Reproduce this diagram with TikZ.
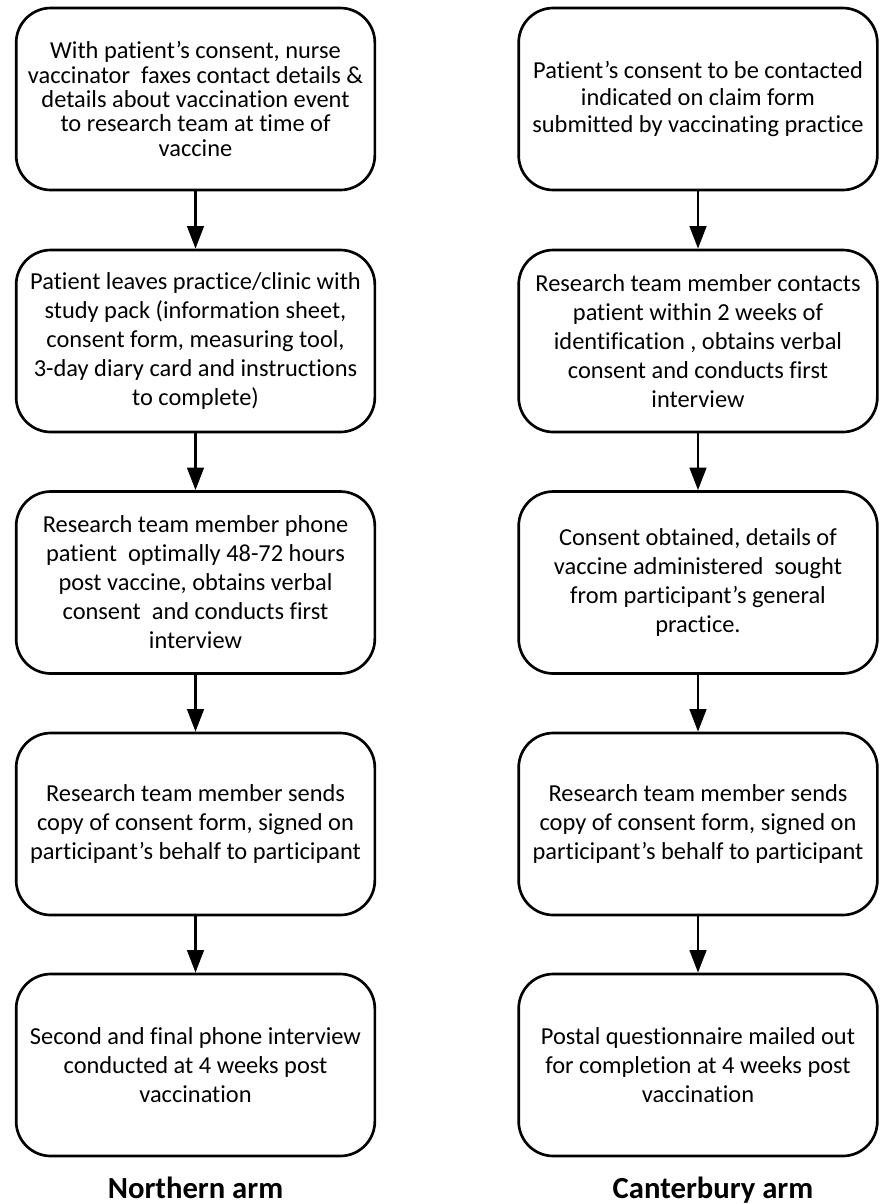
\documentclass[tikz,border=0pt]{standalone}
\usepackage{fontspec}
\setmainfont{Carlito}[Ligatures=CommonOff]
\usetikzlibrary{arrows.meta}

\begin{document}
\begin{tikzpicture}[x=0.75pt,y=-0.75pt,
        stage/.style={draw,line width=2pt,rounded corners=26pt,minimum width=269pt,minimum height=136.5pt,
            align=center,font=\fontsize{18.3}{21.75}\selectfont},
        flow/.style={-{Triangle[length=17pt,width=12.5pt]},line width=2pt},
        armlabel/.style={anchor=base,font=\fontsize{23}{27}\selectfont\bfseries}]
        \useasboundingbox (0,0) rectangle (883,1204);
        % Northern arm
        \node[stage,font=\fontsize{18.3}{18.2}\selectfont] (n1) at (195.5,99) {With patient’s consent, nurse\\vaccinator~ faxes contact details \&\\details about vaccination event\\to research team at time of\\vaccine};
        \node[stage] (n2) at (195.5,341) {Patient leaves practice/clinic with\\study pack (information sheet,\\consent form, measuring tool,\\3-day diary card and instructions\\to complete)};
        \node[stage] (n3) at (195.5,582.5) {Research team member phone\\patient~ optimally 48-72 hours\\post vaccine, obtains verbal\\consent~ and conducts first\\interview};
        \node[stage] (n4) at (195.5,824) {Research team member sends\\copy of consent form, signed on\\participant’s behalf to participant};
        \node[stage] (n5) at (195.5,1065) {Second and final phone interview\\conducted at 4 weeks post\\vaccination};
        \node[armlabel] (nlab) at (195.5,1198) {Northern arm};
        % Canterbury arm
        \node[stage,font=\fontsize{18.3}{20}\selectfont] (c1) at (698,99) {Patient’s consent to be contacted\\indicated on claim form\\submitted by vaccinating practice};
        \node[stage] (c2) at (698,341) {Research team member contacts\\patient within 2 weeks of\\identification , obtains verbal\\consent and conducts first\\interview};
        \node[stage] (c3) at (698,582.5) {Consent obtained, details of\\vaccine administered~ sought\\from participant’s general\\practice.};
        \node[stage] (c4) at (698,824) {Research team member sends\\copy of consent form, signed on\\participant’s behalf to participant};
        \node[stage] (c5) at (698,1065) {Postal questionnaire mailed out\\for completion at 4 weeks post\\vaccination};
        \node[armlabel] (clab) at (713,1198) {Canterbury arm};
        \draw[flow] (n1) -- (n2);
        \draw[flow] (n2) -- (n3);
        \draw[flow] (n3) -- (n4);
        \draw[flow] (n4) -- (n5);
        \draw[flow] (c1) -- (c2);
        \draw[flow] (c2) -- (c3);
        \draw[flow] (c3) -- (c4);
        \draw[flow] (c4) -- (c5);
    \end{tikzpicture}
\end{document}
